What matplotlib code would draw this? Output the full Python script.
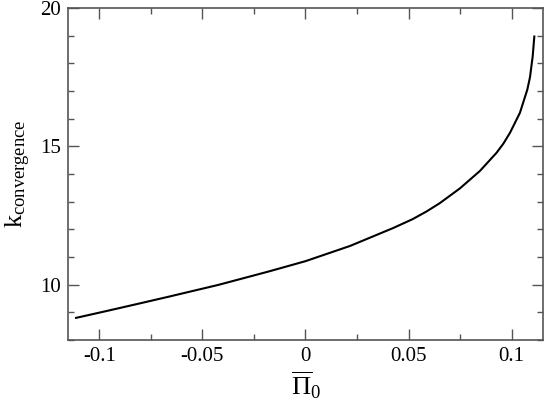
import numpy as np
import matplotlib
matplotlib.use('Agg')
import matplotlib.pyplot as plt
from matplotlib.ticker import MultipleLocator

plt.rcParams['font.family'] = 'Liberation Serif'
plt.rcParams['mathtext.fontset'] = 'custom'
plt.rcParams['mathtext.rm'] = 'Liberation Serif'
plt.rcParams['mathtext.it'] = 'Liberation Serif'

# values
pi0 = [-0.1113, -0.0958, -0.0800, -0.0667, -0.0424, -0.0182, 0.0, 0.0216,
       0.0426, 0.0520, 0.0588, 0.0652, 0.0749, 0.0846, 0.0927, 0.0960,
       0.0992, 0.1040, 0.1076, 0.1089, 0.1102, 0.1110]
k_conv = [8.80, 9.06, 9.33, 9.56, 9.99, 10.47, 10.85, 11.40,
          12.05, 12.37, 12.65, 12.95, 13.48, 14.11, 14.77, 15.10,
          15.49, 16.21, 17.05, 17.50, 18.25, 18.97]

fig = plt.figure(figsize=(5.45, 4.03), dpi=100)
ax = fig.add_axes([0.1248, 0.1563, 0.8715, 0.8238])
ax.plot(pi0, k_conv, color='black', lw=1.5)

ax.set_xlim(-0.1152, 0.1152)
ax.set_ylim(8, 20)
ax.xaxis.set_minor_locator(MultipleLocator(0.025))
ax.yaxis.set_minor_locator(MultipleLocator(1))
ax.set_xticks([-0.1, -0.05, 0, 0.05, 0.1])
ax.set_xticklabels(['-0.1', '-0.05', '0', '0.05', '0.1'])
ax.set_yticks([10, 15, 20])
ax.set_yticklabels(['10', '15', '20'])

for s in ax.spines.values():
    s.set_color('#555555')
    s.set_linewidth(1.2)
ax.tick_params(which='both', direction='in', top=True, right=True,
               color='#555555', width=1.0, labelsize=15, pad=5)
ax.tick_params(which='major', length=8)
ax.tick_params(which='minor', length=4)

ax.set_xlabel(r'$\overline{\Pi}_0$', fontsize=19, labelpad=3)
ax.set_ylabel(r'$\mathregular{k_{convergence}}$', fontsize=19, labelpad=5)

fig.savefig('out.png', dpi=100)
